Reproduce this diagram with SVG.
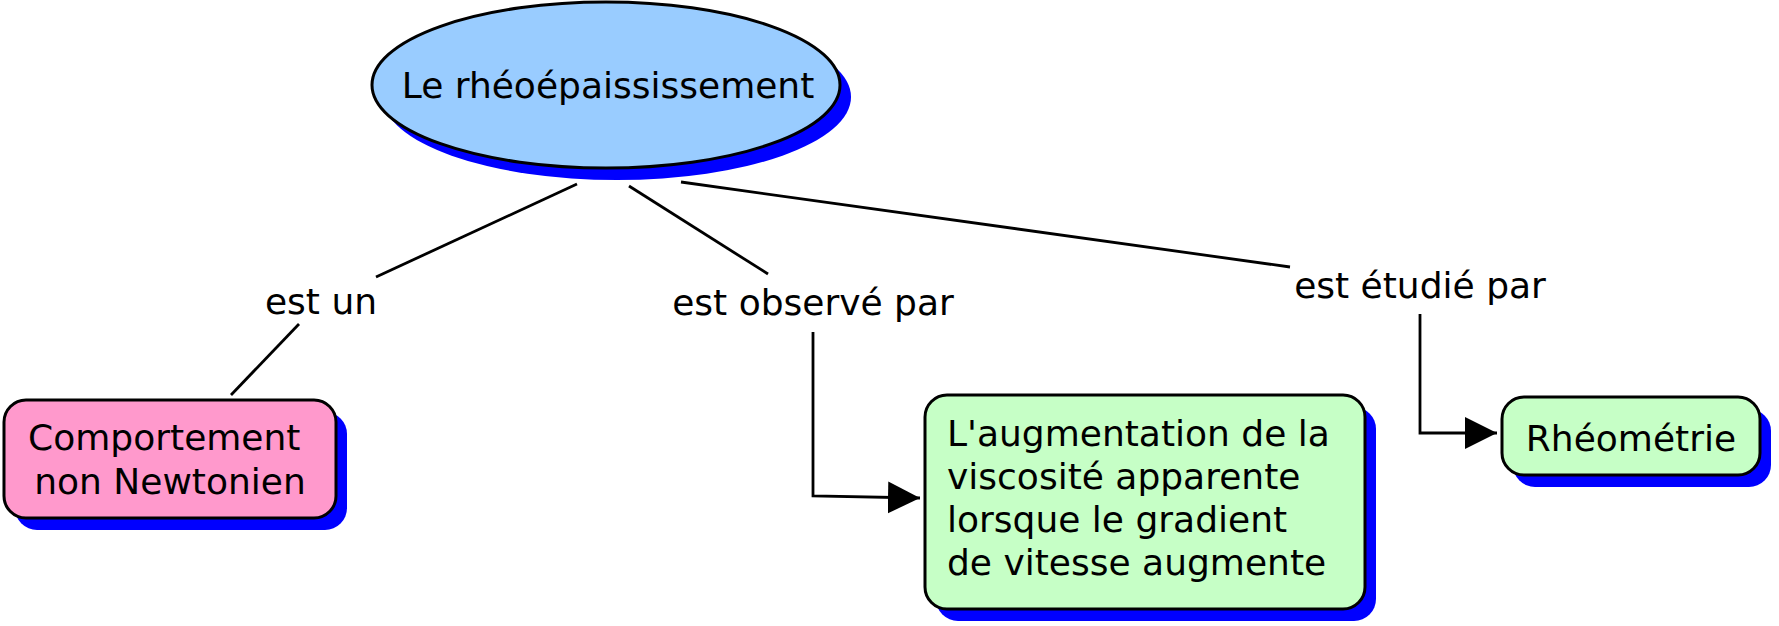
<svg xmlns="http://www.w3.org/2000/svg" width="1779" height="626" viewBox="0 0 1779 626">
<style>
text{font-family:"DejaVu Sans","Verdana",sans-serif;font-size:36px;fill:#000;white-space:pre}
.shadow{fill:#0000ff;stroke:none}
.node{stroke:#000;stroke-width:3}
.conn{fill:none;stroke:#000;stroke-width:2.8}
.mid{text-anchor:middle}
</style>
<defs>
<marker id="arr" markerWidth="34" markerHeight="34" refX="32" refY="16" orient="auto" markerUnits="userSpaceOnUse">
<path d="M0,0 L32,16 L0,32 Z" fill="#000"/>
</marker>
</defs>
<rect width="1779" height="626" fill="#fff"/>
<g id="connectors">
<line class="conn" x1="577" y1="184" x2="376" y2="277"/>
<line class="conn" x1="299" y1="324" x2="231" y2="395"/>
<line class="conn" x1="629" y1="186" x2="768" y2="274"/>
<line class="conn" x1="681" y1="182" x2="1290" y2="267"/>
<polyline class="conn" points="813,332 813,496 920,498" marker-end="url(#arr)"/>
<polyline class="conn" points="1420,314 1420,433 1497,433" marker-end="url(#arr)"/>
<text class="mid" x="321" y="314">est un</text>
<text class="mid" x="813" y="315">est observé par</text>
<text class="mid" x="1420" y="298">est étudié par</text>
</g>
<g id="node-rheo">
<ellipse class="shadow" cx="617" cy="97" rx="234" ry="83"/>
<ellipse class="node" cx="606" cy="85" rx="234" ry="83" fill="#99ccff"/>
<text class="mid" x="608" y="98">Le rhéoépaississement</text>
</g>
<g id="node-comportement">
<rect class="shadow" x="15" y="412" width="332" height="118" rx="22"/>
<rect class="node" x="4" y="400" width="332" height="118" rx="22" fill="#ff99cc"/>
<text class="mid" x="170" y="450">Comportement </text>
<text class="mid" x="170" y="494">non Newtonien</text>
</g>
<g id="node-augmentation">
<rect class="shadow" x="936" y="407" width="440" height="214" rx="22"/>
<rect class="node" x="925" y="395" width="440" height="214" rx="22" fill="#c6ffc6"/>
<text x="947" y="446">L'augmentation de la</text>
<text x="947" y="489">viscosité apparente</text>
<text x="947" y="532">lorsque le gradient</text>
<text x="947" y="575">de vitesse augmente</text>
</g>
<g id="node-rheometrie">
<rect class="shadow" x="1513" y="409" width="258" height="78" rx="22"/>
<rect class="node" x="1502" y="397" width="258" height="78" rx="22" fill="#c6ffc6"/>
<text class="mid" x="1631" y="451">Rhéométrie</text>
</g>
</svg>
